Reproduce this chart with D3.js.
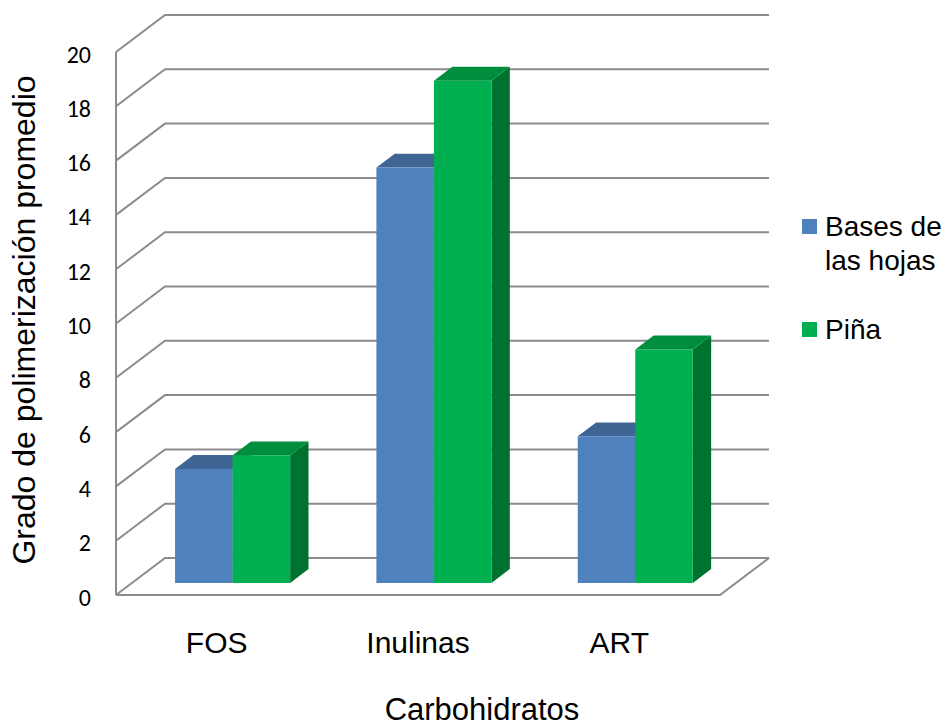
<!DOCTYPE html>
<html>
<head>
<meta charset="utf-8">
<script src="https://cdn.jsdelivr.net/npm/d3@7"></script>
<style>
  html, body { margin: 0; padding: 0; background: #fff; }
  svg { display: block; }
</style>
</head>
<body>
<svg id="chart" width="948" height="726"></svg>
<script>
// Categories, series and values
const categories = ["FOS", "Inulinas", "ART"];
const seriesNames = ["Bases de las hojas", "Piña"];
const basesValues = [4.2, 15.3, 5.4];
const pinaValues = [4.7, 18.5, 8.6];
const yTicks = [0, 2, 4, 6, 8, 10, 12, 14, 16, 18, 20];
const legendLines = [["Bases de", "las hojas"], ["Piña"]];

const seriesValues = [basesValues, pinaValues];
const faceColors = [
  { front: "#4F81BD", top: "#3F6594", side: "#385D8A" },
  { front: "#00B050", top: "#008E3E", side: "#007230" }
];

const svg = d3.select("#chart");

// Front plane of the 3D box
const floorLeft = 116, floorRight = 720;
const depthDx = 49, depthDy = 37;   // offset from front to back wall
const y = d3.scaleLinear().domain([0, 20]).range([595, 52]);

// project a front-plane x and a value onto a given depth (0 = front, 1 = back wall)
const P = (x, v, d) => [x + d * depthDx, y(v) - d * depthDy];

const xBand = d3.scaleBand().domain(categories).range([floorLeft, floorRight]).padding(0);
const xSub = d3.scaleBand().domain(seriesNames).range([0, xBand.bandwidth()])
  .paddingInner(0).paddingOuter(0.75);

const gridColor = "#8C8C8C";
const grid = svg.append("g").attr("stroke", gridColor).attr("stroke-width", 2).attr("fill", "none");

// back wall gridlines and left wall diagonals
yTicks.forEach(t => {
  const a = P(floorLeft, t, 0), b = P(floorLeft, t, 1), c = P(floorRight, t, 1);
  grid.append("polyline").attr("points", [a, b, c].map(p => p.join(",")).join(" "));
});
// front vertical axis
grid.append("line")
  .attr("x1", floorLeft).attr("x2", floorLeft)
  .attr("y1", y(0)).attr("y2", y(20));
// floor outline: front edge and right edge
grid.append("polyline").attr("points",
  [P(floorLeft, 0, 0), P(floorRight, 0, 0), P(floorRight, 0, 1)].map(p => p.join(",")).join(" "));

// tick labels
svg.append("g").selectAll("text").data(yTicks).join("text")
  .attr("x", floorLeft - 25)
  .attr("y", d => y(d) + 2)
  .attr("text-anchor", "end")
  .attr("dominant-baseline", "central")
  .attr("font-family", "Carlito, Calibri, 'Open Sans', sans-serif")
  .attr("font-size", 24)
  .attr("fill", "#000")
  .text(d => d);

// bars
const d1 = 0.325, d2 = 0.70;
const poly = pts => pts.map(p => p.join(",")).join(" ");
const bars = svg.append("g");
categories.forEach((cat, ci) => {
  seriesNames.forEach((s, si) => {
    const v = seriesValues[si][ci];
    const x0 = xBand(cat) + xSub(s), x1 = x0 + xSub.bandwidth();
    const col = faceColors[si];
    bars.append("polygon")
      .attr("points", poly([P(x1, 0, d1), P(x1, 0, d2), P(x1, v, d2), P(x1, v, d1)]))
      .attr("fill", col.side);
    bars.append("polygon")
      .attr("points", poly([P(x0, v, d1), P(x1, v, d1), P(x1, v, d2), P(x0, v, d2)]))
      .attr("fill", col.top);
    bars.append("polygon")
      .attr("points", poly([P(x0, 0, d1), P(x1, 0, d1), P(x1, v, d1), P(x0, v, d1)]))
      .attr("fill", col.front);
  });
});

const textFont = "Arial, 'Liberation Sans', sans-serif";

// category labels
svg.append("g").selectAll("text").data(categories).join("text")
  .attr("x", d => xBand(d) + xBand.bandwidth() / 2)
  .attr("y", 653)
  .attr("text-anchor", "middle")
  .attr("font-family", textFont)
  .attr("font-size", 30)
  .attr("fill", "#000")
  .text(d => d);

// axis titles
svg.append("text")
  .attr("x", 482).attr("y", 720)
  .attr("text-anchor", "middle")
  .attr("font-family", textFont).attr("font-size", 31)
  .text("Carbohidratos");

svg.append("text")
  .attr("transform", "translate(35,320) rotate(-90)")
  .attr("text-anchor", "middle")
  .attr("font-family", textFont).attr("font-size", 32)
  .text("Grado de polimerización promedio");

// legend
const legendTop = [219, 322];
const legend = svg.append("g");
seriesNames.forEach((s, i) => {
  legend.append("rect")
    .attr("x", 802).attr("y", legendTop[i])
    .attr("width", 15).attr("height", 15)
    .attr("fill", faceColors[i].front);
  legendLines[i].forEach((line, li) => {
    legend.append("text")
      .attr("x", 825).attr("y", legendTop[i] + 17 + li * 34)
      .attr("font-family", textFont).attr("font-size", 28)
      .text(line);
  });
});
</script>
</body>
</html>
